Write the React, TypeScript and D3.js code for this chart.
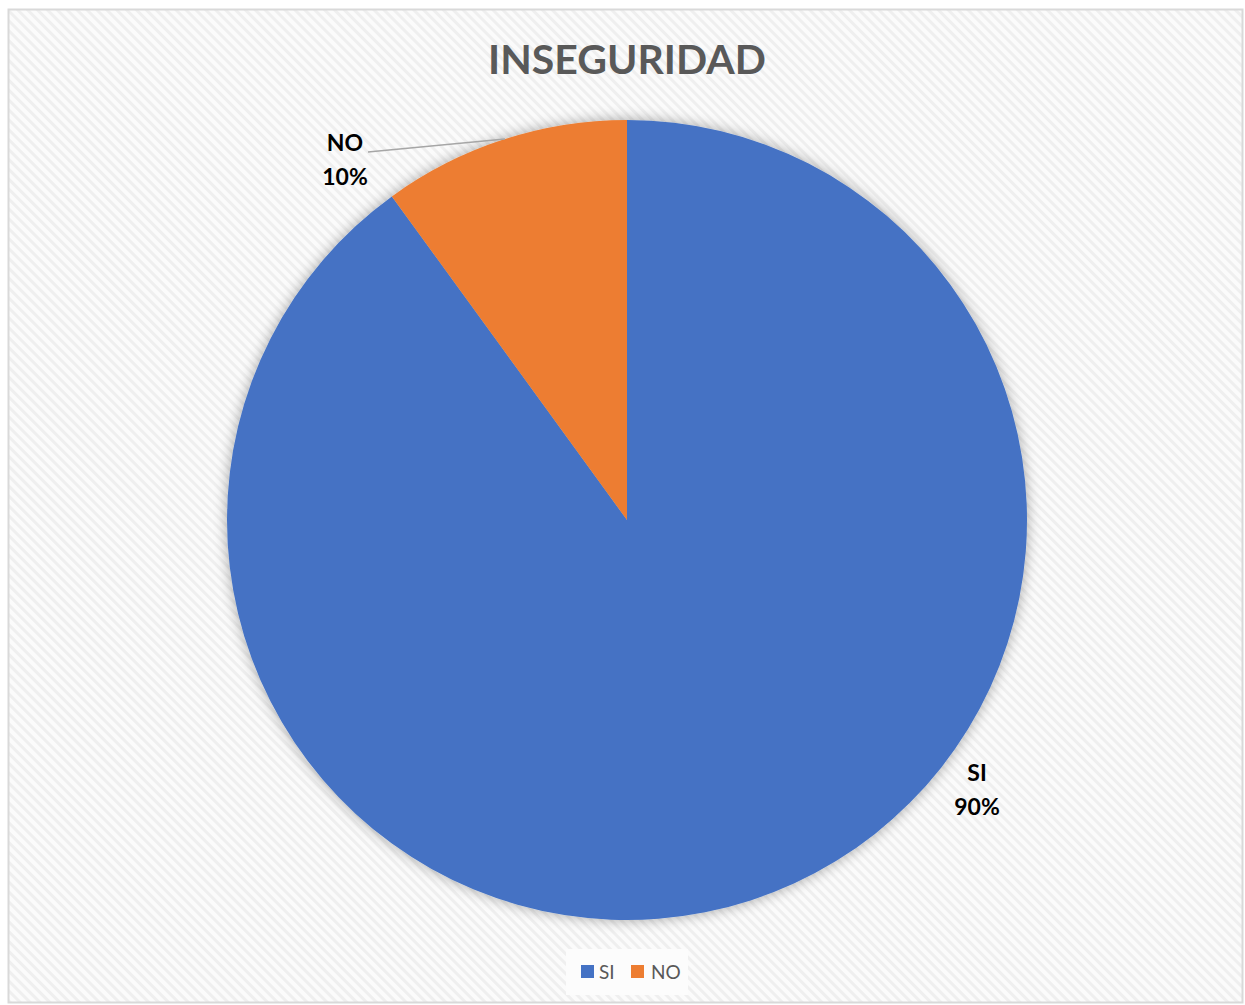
import React from "react";
import * as d3 from "d3";

const categories = ["SI", "NO"];
const values = [90, 10];
const percentLabels = ["90%", "10%"];
const colors = ["#4472C4", "#ED7D31"];
const title = "INSEGURIDAD";

export default function App() {
  const W = 1245, H = 1005;
  const cx = 627, cy = 520, r = 400;
  const pie = d3.pie<number>().sort(null).value((d) => d);
  const arcs = pie(values);
  const arcGen = d3.arc<d3.PieArcDatum<number>>().innerRadius(0).outerRadius(r);
  const font = "Lato, 'Open Sans', sans-serif";

  // leader line endpoint on the NO slice edge
  const noArc = arcs[1];
  const leadAngle = noArc.startAngle + (noArc.endAngle - noArc.startAngle) * 0.15 + (2 * Math.PI - noArc.endAngle) + 0;
  const ang = 2 * Math.PI - 0.31;
  const edge = [cx + Math.sin(ang) * r, cy - Math.cos(ang) * r];
  void leadAngle;

  return (
    <svg width={W} height={H} style={{ position: "absolute", left: 0, top: 0 }}>
      <defs>
        <pattern id="stripes" patternUnits="userSpaceOnUse" width="7" height="7" patternTransform="rotate(45)">
          <rect width="7" height="7" fill="#fbfbfb" />
          <rect width="7" height="3" fill="#efefef" />
        </pattern>
        <filter id="shadow" x="-20%" y="-20%" width="140%" height="140%">
          <feGaussianBlur in="SourceAlpha" stdDeviation="7" />
          <feComponentTransfer>
            <feFuncA type="linear" slope="0.35" />
          </feComponentTransfer>
          <feMerge>
            <feMergeNode />
            <feMergeNode in="SourceGraphic" />
          </feMerge>
        </filter>
      </defs>
      <rect x={0} y={0} width={W} height={H} fill="#ffffff" />
      <rect x={8.5} y={9.5} width={1234} height={993} fill="url(#stripes)" stroke="#d9d9d9" strokeWidth={2} />
      <text x={627} y={74} textAnchor="middle" fontFamily={font} fontWeight={700} fontSize={41} fill="#595959">
        {title}
      </text>
      <g transform={`translate(${cx},${cy})`} filter="url(#shadow)">
        {arcs.map((a, i) => (
          <path key={categories[i]} d={arcGen(a) || ""} fill={colors[i]} />
        ))}
      </g>
      <line x1={368} y1={152} x2={edge[0]} y2={edge[1]} stroke="#a6a6a6" strokeWidth={1.5} />
      <g fontFamily={font} fontWeight={700} fontSize={23} fill="#000" textAnchor="middle">
        <text x={345} y={151}>{categories[1]}</text>
        <text x={345} y={185}>{percentLabels[1]}</text>
        <text x={977} y={781}>{categories[0]}</text>
        <text x={977} y={815}>{percentLabels[0]}</text>
      </g>
      <rect x={566} y={949} width={122} height={46} fill="#fcfcfc" />
      <g fontFamily={font} fontSize={19} fill="#595959">
        <rect x={581} y={965} width={13} height={13} fill={colors[0]} />
        <text x={599} y={979}>{categories[0]}</text>
        <rect x={631} y={965} width={13} height={13} fill={colors[1]} />
        <text x={651} y={979}>{categories[1]}</text>
      </g>
    </svg>
  );
}
